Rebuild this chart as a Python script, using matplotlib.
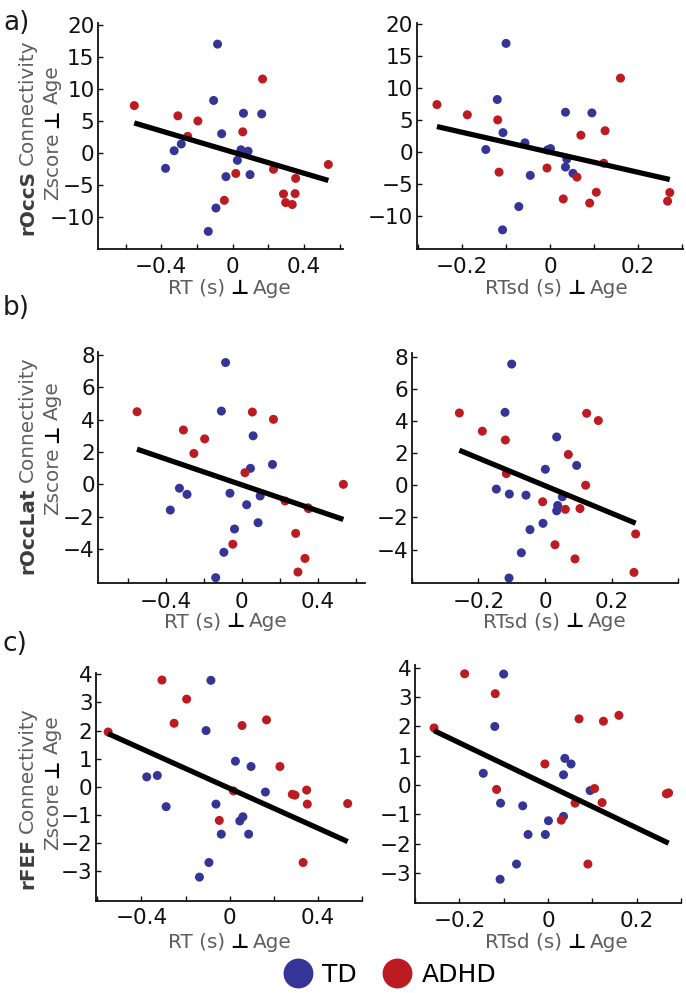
import numpy as np
import matplotlib
matplotlib.use("Agg")
import matplotlib.pyplot as plt
from matplotlib.transforms import IdentityTransform
from matplotlib.lines import Line2D

W, H, DPI = 686, 993, 100
plt.rcParams['font.family'] = ['DejaVu Sans']
plt.rcParams['axes.unicode_minus'] = True

# ---------------- data ----------------
# TD group (15 children): RT, RTsd and connectivity z-scores (partialled for age)
rt_td = [-0.085, -0.107, 0.060, 0.162, -0.062, -0.288, -0.328, 0.046, 0.086, 0.026, -0.376, -0.038, 0.097, -0.094, -0.137]
rtsd_td = [-0.100, -0.120, 0.035, 0.095, -0.107, -0.057, -0.146, 0.001, -0.006, 0.038, 0.035, -0.045, 0.052, -0.071, -0.108]
occs_td = [17.0, 8.2, 6.2, 6.1, 3.0, 1.4, 0.35, 0.5, 0.28, -1.15, -2.4, -3.7, -3.38, -8.6, -12.25]
occlat_td = [7.53, 4.53, 3.0, 1.23, -0.55, -0.62, -0.24, 0.99, -2.37, -1.26, -1.59, -2.76, -0.72, -4.2, -5.77]
fef_td = [3.79, 2.0, -1.07, -0.19, -0.62, -0.71, 0.40, -1.22, -1.69, 0.91, 0.35, -1.69, 0.72, -2.7, -3.22]

# ADHD group (15 children)
rt_adhd = [-0.551, -0.307, -0.195, 0.017, 0.056, 0.167, -0.252, 0.535, 0.228, 0.352, 0.349, 0.284, -0.047, 0.333, 0.296]
rtsd_adhd = [-0.257, -0.188, -0.119, -0.116, 0.125, 0.160, 0.070, 0.122, -0.007, 0.061, 0.105, 0.272, 0.030, 0.090, 0.267]
occs_adhd = [7.4, 5.8, 5.0, -3.2, 3.3, 11.55, 2.6, -1.8, -2.55, -3.97, -6.35, -6.4, -7.4, -8.05, -7.75]
occlat_adhd = [4.49, 3.36, 2.81, 0.72, 4.47, 4.02, 1.91, 0.0, -1.03, -1.5, -1.45, -3.03, -3.7, -4.58, -5.42]
fef_adhd = [1.95, 3.8, 3.12, -0.15, 2.18, 2.38, 2.26, -0.6, 0.72, -0.62, -0.12, -0.27, -1.2, -2.7, -0.3]

roi_names = ['rOccS', 'rOccLat', 'rFEF']
x_names = ['RT (s)', 'RTsd (s)']
group_names = ['TD', 'ADHD']
panel_letters = ['a)', 'b)', 'c)']

# regression lines (slope, intercept) per row (ROI) and column (RT, RTsd)
fit_slope = [[-8.27, -15.7], [-4.0, -8.57], [-3.54, -7.27]]
fit_intercept = [[0.13, -0.08], [-0.03, -0.03], [-0.06, -0.01]]

# axis ticks
xticks_rt = [-0.6, -0.4, -0.2, 0.0, 0.2, 0.4, 0.6]
xlabels_rt = [-0.4, 0.0, 0.4]
xticks_rtsd = [[-0.3, -0.2, -0.1, 0.0, 0.1, 0.2, 0.3],
               [-0.4, -0.2, 0.0, 0.2, 0.4],
               [-0.3, -0.2, -0.1, 0.0, 0.1, 0.2, 0.3]]
xlabels_rtsd = [-0.2, 0.0, 0.2]
yticks_rows = [[-10, -5, 0, 5, 10, 15, 20],
               [-4, -2, 0, 2, 4, 6, 8],
               [-3, -2, -1, 0, 1, 2, 3, 4]]

# ---------------- layout (image pixels) ----------------
boxes = [[(98, 23, 343, 249), (416.7, 23, 683, 249.3)],
         [(98.3, 351.7, 365, 582.7), (411.7, 353.3, 678.3, 582.7)],
         [(96, 673.3, 362, 900.7), (415, 665, 681, 903.3)]]
xlims = [[(-0.754, 0.617), (-0.303, 0.302)],
         [(-0.755, 0.649), (-0.396, 0.40)],
         [(-0.606, 0.60), (-0.30, 0.30)]]
ylims = [[(-15.0, 20.3), (-15.3, 20.2)],
         [(-6.08, 8.2), (-6.06, 8.2)],
         [(-4.06, 4.04), (-4.04, 4.1)]]
ylab_centers = [(137, 133), (465, 448), (798, 783)]
xlab_base = [294, 627, 948]
xlab_centers = [(230, 557), (226, 555), (230, 557)]
xtick_pad = [5.5, 6.5, 5.5]
letter_base = [30, 315, 651]

BLUE = '#353597'
RED = '#bb1b21'
GRAY = '#5e5e5e'
DARK = '#3c3c3c'

fig = plt.figure(figsize=(W / DPI, H / DPI), dpi=DPI)
renderer = fig.canvas.get_renderer()


def fmt(v):
    if abs(v) < 1e-9:
        return '0'
    return ('\u2212' if v < 0 else '') + f'{abs(v):g}'


def multi_text(pieces, center, base, vertical=False, gap=5):
    arts, lens = [], []
    for s, kw in pieces:
        t = fig.text(0, 0, s, transform=IdentityTransform(),
                     rotation=90 if vertical else 0, rotation_mode='anchor',
                     ha='left', va='baseline', **kw)
        bb = t.get_window_extent(renderer)
        lens.append(bb.height if vertical else bb.width)
        arts.append(t)
    total = sum(lens) + gap * (len(lens) - 1)
    pos = -total / 2
    for t, L in zip(arts, lens):
        if vertical:
            t.set_position((base, H - center + pos))
        else:
            t.set_position((center + pos, H - base))
        pos += L + gap


LAB = dict(fontsize=14.4, color=GRAY)
PERP = dict(fontsize=14.4, color='black', fontweight='bold')

roi_td = [occs_td, occlat_td, fef_td]
roi_adhd = [occs_adhd, occlat_adhd, fef_adhd]

for r in range(3):
    for c in range(2):
        l, t, rr, b = boxes[r][c]
        ax = fig.add_axes([l / W, 1 - b / H, (rr - l) / W, (b - t) / H])
        xtd = rt_td if c == 0 else rtsd_td
        xad = rt_adhd if c == 0 else rtsd_adhd
        ax.scatter(xtd, roi_td[r], s=42, color=BLUE, edgecolors='none', zorder=2)
        ax.scatter(xad, roi_adhd[r], s=42, color=RED, edgecolors='none', zorder=2)
        allx = np.array(list(xtd) + list(xad))
        xs = np.array([allx.min(), allx.max()])
        ax.plot(xs, fit_slope[r][c] * xs + fit_intercept[r][c], color='black',
                lw=3.8, solid_capstyle='butt', zorder=3)
        ax.set_xlim(*xlims[r][c])
        ax.set_ylim(*ylims[r][c])
        xt = xticks_rt if c == 0 else xticks_rtsd[r]
        xl = xlabels_rt if c == 0 else xlabels_rtsd
        ax.set_xticks(xt)
        ax.set_xticklabels([fmt(v) if any(abs(v - q) < 1e-9 for q in xl) else '' for v in xt])
        yt = yticks_rows[r]
        ax.set_yticks(yt)
        ax.set_yticklabels([fmt(v) for v in yt])
        for s in ['top', 'right']:
            ax.spines[s].set_visible(False)
        for s in ['left', 'bottom']:
            ax.spines[s].set_linewidth(1.3)
            ax.spines[s].set_color('#111111')
        ax.tick_params(direction='in', length=3.5, width=1.0, labelsize=15.5,
                       colors='#111111')
        ax.tick_params(axis='x', pad=xtick_pad[r])
        ax.tick_params(axis='y', pad=2.5)
        ax.patch.set_alpha(0)
        # x label
        multi_text([(x_names[c], LAB), ('\u22a5', PERP), ('Age', LAB)],
                   xlab_centers[r][c], xlab_base[r], vertical=False, gap=5)
    # y labels
    multi_text([(roi_names[r], dict(fontsize=14.4, color=DARK, fontweight='bold')),
                ('Connectivity', LAB)], ylab_centers[r][0], 33, vertical=True, gap=5)
    multi_text([('Zscore', LAB), ('\u22a5', PERP), ('Age', LAB)],
               ylab_centers[r][1], 58, vertical=True, gap=5)
    fig.text(3, H - letter_base[r], panel_letters[r], transform=IdentityTransform(),
             fontsize=19, color='#1a1a1a', ha='left', va='baseline')

handles = [Line2D([0], [0], marker='o', linestyle='none', markersize=21.5,
                  markerfacecolor=col, markeredgecolor='none') for col in (BLUE, RED)]
fig.legend(handles, group_names, loc='center', bbox_to_anchor=(391 / W, 1 - 975 / H),
           ncol=2, frameon=False, fontsize=18, handlelength=1.0, handletextpad=0.5,
           columnspacing=1.1, borderpad=0, borderaxespad=0)

fig.savefig('out.png', dpi=DPI)
